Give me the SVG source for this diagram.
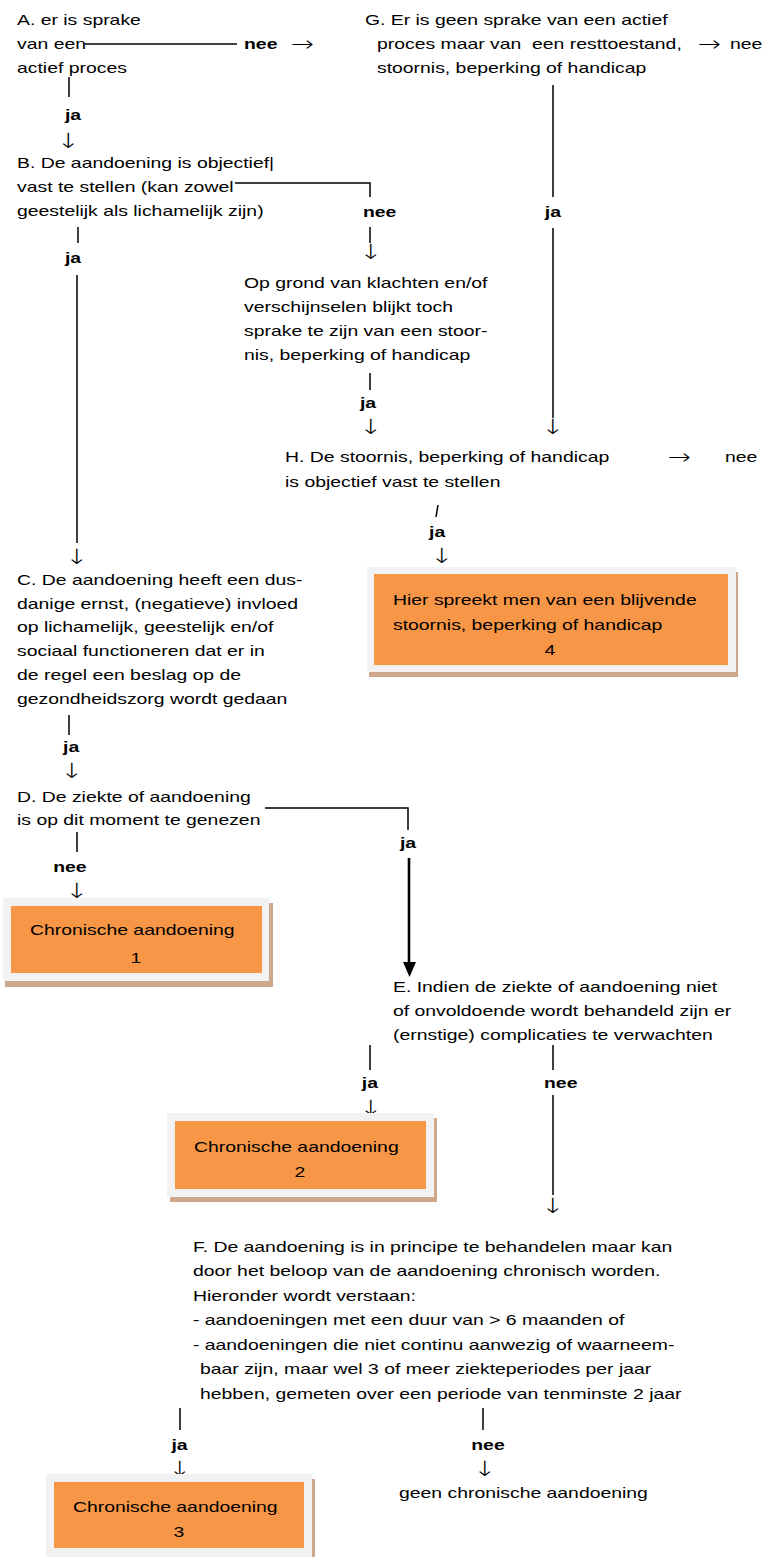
<svg xmlns="http://www.w3.org/2000/svg" width="783" height="1557" viewBox="0 0 783 1557">
<style>
text{font-family:"Liberation Sans","DejaVu Sans",sans-serif;font-size:14.8px;fill:#000}
.b{font-weight:bold}
.m{text-anchor:middle}
.ar{font-family:"DejaVu Sans",sans-serif;font-size:21px;font-weight:200}
.pre{white-space:pre}
.ln{stroke:#000;stroke-width:1.5;fill:none}
.shadow{fill:#cfa78a}
.frame{fill:#f2f2f2}
.box{fill:#f79646}
</style>
<rect width="783" height="1557" fill="#fff"/>

<g id="connectors">
  <line class="ln" x1="85" y1="44" x2="237" y2="44"/>
  <line class="ln" x1="69" y1="77" x2="69" y2="97"/>
  <polyline class="ln" points="235,183 370,183 370,197"/>
  <line class="ln" x1="370" y1="227" x2="370" y2="243"/>
  <line class="ln" x1="78" y1="227" x2="78" y2="243"/>
  <line class="ln" x1="77" y1="275" x2="77" y2="543"/>
  <line class="ln" x1="553" y1="85" x2="553" y2="197"/>
  <line class="ln" x1="553" y1="228" x2="553" y2="418"/>
  <line class="ln" x1="370" y1="373" x2="370" y2="390"/>
  <line class="ln" x1="438" y1="505" x2="436" y2="517"/>
  <line class="ln" x1="69" y1="715" x2="69" y2="735"/>
  <polyline class="ln" points="265,808 408,808 408,830"/>
  <line x1="409" y1="858" x2="409" y2="964" stroke="#000" stroke-width="2.6"/>
  <polygon points="403,962 416,962 409.5,977" fill="#000"/>
  <line class="ln" x1="77" y1="832" x2="77" y2="852"/>
  <line class="ln" x1="370" y1="1045" x2="370" y2="1070"/>
  <line class="ln" x1="553" y1="1045" x2="553" y2="1070"/>
  <line class="ln" x1="553" y1="1095" x2="553" y2="1195"/>
  <line class="ln" x1="180" y1="1408" x2="180" y2="1430"/>
  <line class="ln" x1="483" y1="1408" x2="483" y2="1430"/>
  <g transform="scale(1.31,1)">
    <text class="b" x="186.3" y="49">nee</text>
    <text class="ar" x="222.1" y="51">→</text>
    <text class="b" x="49.6" y="120">ja</text>
    <text class="ar m" x="52.3" y="148">↓</text>
    <text class="b" x="277.1" y="217">nee</text>
    <text class="ar m" x="283.2" y="259">↓</text>
    <text class="b" x="49.6" y="263">ja</text>
    <text class="ar m" x="58.8" y="564">↓</text>
    <text class="ar" x="532.8" y="51">→</text>
    <text x="557.3" y="49">nee</text>
    <text class="b m" x="422.1" y="217">ja</text>
    <text class="ar m" x="422.1" y="434">↓</text>
    <text class="b" x="274.8" y="408">ja</text>
    <text class="ar m" x="283.2" y="434">↓</text>
    <text class="ar" x="510" y="464">→</text>
    <text x="553.4" y="462">nee</text>
    <text class="b" x="327.5" y="537">ja</text>
    <text class="ar m" x="337.4" y="563">↓</text>
    <text class="b" x="48.1" y="752">ja</text>
    <text class="ar m" x="55.0" y="778">↓</text>
    <text class="b m" x="311.5" y="848">ja</text>
    <text class="b m" x="53.4" y="872">nee</text>
    <text class="ar m" x="58.8" y="898">↓</text>
    <text class="b m" x="282.4" y="1088">ja</text>
    <text class="ar m" x="283.2" y="1115">↓</text>
    <text class="b" x="415.3" y="1088">nee</text>
    <text class="ar m" x="422.1" y="1213">↓</text>
    <text class="b m" x="137.0" y="1450">ja</text>
    <text class="ar m" x="137.4" y="1476">↓</text>
    <text class="b m" x="372.5" y="1450">nee</text>
    <text class="ar m" x="370.2" y="1476">↓</text>
  </g>
</g>

<g id="nodeA" transform="scale(1.31,1)">
  <text x="13" y="25">A. er is sprake</text>
  <text x="13" y="49">van een</text>
  <text x="13" y="73">actief proces</text>
</g>

<g id="nodeG" transform="scale(1.31,1)">
  <text x="278.6" y="25">G. Er is geen sprake van een actief</text>
  <text class="pre" x="287.8" y="49">proces maar van  een resttoestand,</text>
  <text x="287.8" y="73">stoornis, beperking of handicap</text>
</g>

<g id="nodeB" transform="scale(1.31,1)">
  <text x="13" y="168">B. De aandoening is objectief|</text>
  <text x="13" y="192">vast te stellen (kan zowel</text>
  <text x="13" y="216">geestelijk als lichamelijk zijn)</text>
</g>

<g id="nodeOpGrond" transform="scale(1.31,1)">
  <text x="186.3" y="288">Op grond van klachten en/of</text>
  <text x="186.3" y="312">verschijnselen blijkt toch</text>
  <text x="186.3" y="336">sprake te zijn van een stoor-</text>
  <text x="186.3" y="360">nis, beperking of handicap</text>
</g>

<g id="nodeH" transform="scale(1.31,1)">
  <text x="217.6" y="462">H. De stoornis, beperking of handicap</text>
  <text x="217.6" y="487">is objectief vast te stellen</text>
</g>

<g id="box4">
  <rect class="shadow" x="369" y="572" width="369" height="105"/>
  <rect class="frame" x="367" y="567" width="369" height="105"/>
  <rect class="box" x="374" y="574" width="354" height="91"/>
  <g transform="scale(1.31,1)">
    <text x="300" y="605">Hier spreekt men van een blijvende</text>
    <text x="300" y="630">stoornis, beperking of handicap</text>
    <text class="m" x="419.8" y="655">4</text>
  </g>
</g>

<g id="nodeC" transform="scale(1.31,1)">
  <text x="13" y="585">C. De aandoening heeft een dus-</text>
  <text x="13" y="609">danige ernst, (negatieve) invloed</text>
  <text x="13" y="632">op lichamelijk, geestelijk en/of</text>
  <text x="13" y="656">sociaal functioneren dat er in</text>
  <text x="13" y="680">de regel een beslag op de</text>
  <text x="13" y="704">gezondheidszorg wordt gedaan</text>
</g>

<g id="nodeD" transform="scale(1.31,1)">
  <text x="13" y="802">D. De ziekte of aandoening</text>
  <text x="13" y="825">is op dit moment te genezen</text>
</g>

<g id="box1">
  <rect class="shadow" x="5" y="903" width="268" height="84"/>
  <rect class="frame" x="3" y="898" width="266" height="83"/>
  <rect class="box" x="11" y="906" width="251" height="67"/>
  <g transform="scale(1.31,1)">
    <text x="22.9" y="935">Chronische aandoening</text>
    <text class="m" x="103.8" y="963">1</text>
  </g>
</g>

<g id="nodeE" transform="scale(1.31,1)">
  <text x="300" y="992">E. Indien de ziekte of aandoening niet</text>
  <text x="300" y="1016">of onvoldoende wordt behandeld zijn er</text>
  <text x="300" y="1040">(ernstige) complicaties te verwachten</text>
</g>

<g id="box2">
  <rect class="shadow" x="170" y="1118" width="267" height="84"/>
  <rect class="frame" x="167" y="1113" width="267" height="84"/>
  <rect class="box" x="175" y="1121" width="251" height="68"/>
  <g transform="scale(1.31,1)">
    <text x="148.1" y="1152">Chronische aandoening</text>
    <text class="m" x="229" y="1177">2</text>
  </g>
</g>

<g id="nodeF" transform="scale(1.31,1)">
  <text x="147.3" y="1252">F. De aandoening is in principe te behandelen maar kan</text>
  <text x="147.3" y="1276">door het beloop van de aandoening chronisch worden.</text>
  <text x="147.3" y="1301">Hieronder wordt verstaan:</text>
  <text x="147.3" y="1325">- aandoeningen met een duur van &gt; 6 maanden of</text>
  <text x="147.3" y="1350">- aandoeningen die niet continu aanwezig of waarneem-</text>
  <text x="152.7" y="1374">baar zijn, maar wel 3 of meer ziekteperiodes per jaar</text>
  <text x="152.7" y="1399">hebben, gemeten over een periode van tenminste 2 jaar</text>
</g>

<g id="nodeGeen" transform="scale(1.31,1)">
  <text x="304.6" y="1498">geen chronische aandoening</text>
</g>

<g id="box3">
  <rect class="shadow" x="49" y="1479" width="266" height="90"/>
  <rect class="frame" x="46" y="1474" width="266" height="90"/>
  <rect class="box" x="54" y="1482" width="250" height="66"/>
  <g transform="scale(1.31,1)">
    <text x="55.7" y="1512">Chronische aandoening</text>
    <text class="m" x="136.6" y="1537">3</text>
  </g>
</g>
</svg>
